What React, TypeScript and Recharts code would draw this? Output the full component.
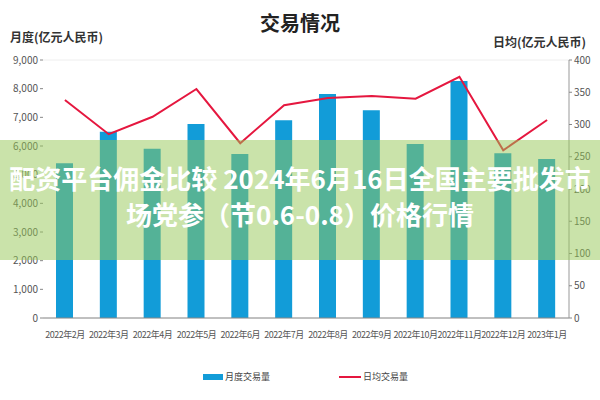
import React from 'react';
import { ComposedChart, Bar, Line, XAxis, YAxis, CartesianGrid } from 'recharts';

// monthly volume (left axis) and daily average (right axis), 亿元人民币
const months = [
  '2022年2月', '2022年3月', '2022年4月', '2022年5月', '2022年6月', '2022年7月',
  '2022年8月', '2022年9月', '2022年10月', '2022年11月', '2022年12月', '2023年1月',
];
const monthlyVolume = [5400, 6500, 5900, 6770, 5720, 6900, 7810, 7250, 6070, 8270, 5750, 5550];
const dailyAverage = [338, 285, 312, 355, 271, 330, 341, 344, 340, 374, 260, 307];
const leftTicks = [0, 1000, 2000, 3000, 4000, 5000, 6000, 7000, 8000, 9000];
const rightTicks = [0, 50, 100, 150, 200, 250, 300, 350, 400];

const BAR_COLOR = '#129cd8';
const LINE_COLOR = '#e5173f';
const FONT = '"Noto Sans CJK SC", "Noto Sans", sans-serif';

const data = months.map((m, i) => ({
  month: m,
  volume: monthlyVolume[i],
  avg: dailyAverage[i],
}));

const fmt = (v: number) => v.toLocaleString('en-US');

export default function App() {
  const tick = { fontSize: 10, fill: '#555', fontFamily: FONT };
  return (
    <div style={{ position: 'absolute', left: 0, top: 0, width: 600, height: 400, background: '#fff', fontFamily: FONT }}>
      <div style={{ position: 'absolute', top: 8, width: 600, textAlign: 'center', fontSize: 20, fontWeight: 700, color: '#222' }}>
        交易情况
      </div>
      <div style={{ position: 'absolute', left: 10, top: 28, fontSize: 12, fontWeight: 700, color: '#333' }}>
        月度(亿元人民币)
      </div>
      <div style={{ position: 'absolute', right: 14, top: 33, fontSize: 12, fontWeight: 700, color: '#333' }}>
        日均(亿元人民币)
      </div>

      <ComposedChart
        width={600}
        height={400}
        data={data}
        margin={{ top: 60, right: 0, left: 0, bottom: 52 }}
      >
        <CartesianGrid vertical={false} stroke="#eeeeee" />
        <XAxis
          dataKey="month"
          height={30}
          interval={0}
          tick={{ ...tick, fontSize: 9, letterSpacing: -0.5 }}
          tickLine={false}
          axisLine={{ stroke: '#888' }}
          tickMargin={8}
        />
        <YAxis
          yAxisId="left"
          width={43}
          domain={[0, 9000]}
          ticks={leftTicks}
          tickFormatter={fmt}
          tick={tick}
          axisLine={false}
          tickLine={{ stroke: '#888' }}
          tickSize={3}
        />
        <YAxis
          yAxisId="right"
          orientation="right"
          width={31}
          domain={[0, 400]}
          ticks={rightTicks}
          tick={tick}
          axisLine={{ stroke: '#999' }}
          tickLine={{ stroke: '#888' }}
          tickSize={3}
        />
        <Bar yAxisId="left" dataKey="volume" fill={BAR_COLOR} barSize={17} isAnimationActive={false} />
        <Line
          yAxisId="right"
          dataKey="avg"
          type="linear"
          stroke={LINE_COLOR}
          strokeWidth={2}
          dot={false}
          isAnimationActive={false}
        />
      </ComposedChart>

      {/* legend */}
      <div style={{ position: 'absolute', left: 203, top: 370, display: 'flex', alignItems: 'center', fontSize: 9, color: '#444' }}>
        <span style={{ display: 'inline-block', width: 20, height: 6, background: BAR_COLOR, marginRight: 2 }} />
        月度交易量
      </div>
      <div style={{ position: 'absolute', left: 339, top: 370, display: 'flex', alignItems: 'center', fontSize: 9, color: '#444' }}>
        <span style={{ display: 'inline-block', width: 22, height: 2, background: LINE_COLOR, marginRight: 2 }} />
        日均交易量
      </div>

      {/* overlay band */}
      <div
        style={{
          position: 'absolute', left: 0, top: 140, width: 600, height: 120,
          background: 'rgba(150, 200, 85, 0.5)', color: '#fff', fontWeight: 700,
          fontSize: 26, textAlign: 'center', lineHeight: '36px', paddingTop: 20, boxSizing: 'border-box',
        }}
      >
        <div style={{ whiteSpace: 'nowrap' }}>配资平台佣金比较 2024年6月16日全国主要批发市</div>
        <div>场党参（节0.6-0.8）价格行情</div>
      </div>
    </div>
  );
}
